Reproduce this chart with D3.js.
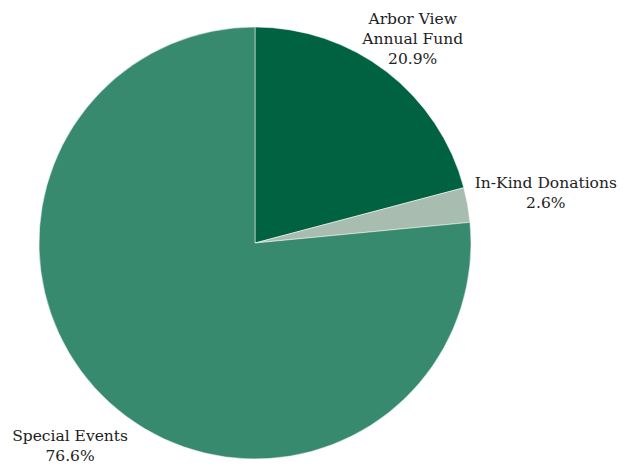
<!DOCTYPE html>
<html>
<head>
<meta charset="utf-8">
<script src="https://cdn.jsdelivr.net/npm/d3@7"></script>
<style>
body { margin: 0; background: #fff; }
text { font-family: "DejaVu Serif", serif; fill: #222; }
</style>
</head>
<body>
<script>
var categories = ["Arbor View Annual Fund", "In-Kind Donations", "Special Events"];
var labelLines = [["Arbor View", "Annual Fund"], ["In-Kind Donations"], ["Special Events"]];
var values = [20.9, 2.6, 76.6];
var colors = ["#006241", "#a8bdb0", "#388a6f"];

var width = 635, height = 465;
var cx = 255, cy = 243, radius = 216;
var fontSize = 15.5;
var lineH = 20;
// small hand tweaks of label placement (layout only)
var labelNudge = [[-7, 10], [6, 1], [-4, 4]];

var svg = d3.select("body").append("svg").attr("width", width).attr("height", height);
var g = svg.append("g").attr("transform", "translate(" + cx + "," + cy + ")");

var pie = d3.pie().sort(null).value(function(d){ return d; });
var arcs = pie(values);
var arc = d3.arc().innerRadius(0).outerRadius(radius);

g.selectAll("path.slice").data(arcs).enter().append("path")
	.attr("class", "slice")
	.attr("d", arc)
	.attr("fill", function(d,i){ return colors[i]; })
	.attr("stroke", "#fff")
	.attr("stroke-width", 0.5);

// labels placed outside, pushed out by their box size
arcs.forEach(function(d, i){
	var a = (d.startAngle + d.endAngle) / 2;
	var lines = labelLines[i].concat([d3.format(".1f")(values[i]) + "%"]);
	var t = g.append("text").attr("font-size", fontSize).attr("text-anchor", "middle");
	lines.forEach(function(s, k){
		t.append("tspan").attr("x", 0).attr("dy", k === 0 ? 0 : lineH).text(s);
	});
	var bb = t.node().getBBox();
	var s = Math.sin(a), c = Math.cos(a);
	var rl = radius + Math.abs(s) * bb.width / 2 + Math.abs(c) * bb.height / 2;
	var px = s * rl + labelNudge[i][0];
	var py = -c * rl + labelNudge[i][1];
	var dy = py - (bb.y + bb.height / 2);
	t.selectAll("tspan").attr("x", px);
	t.attr("transform", "translate(0," + dy + ")");
});
</script>
</body>
</html>
